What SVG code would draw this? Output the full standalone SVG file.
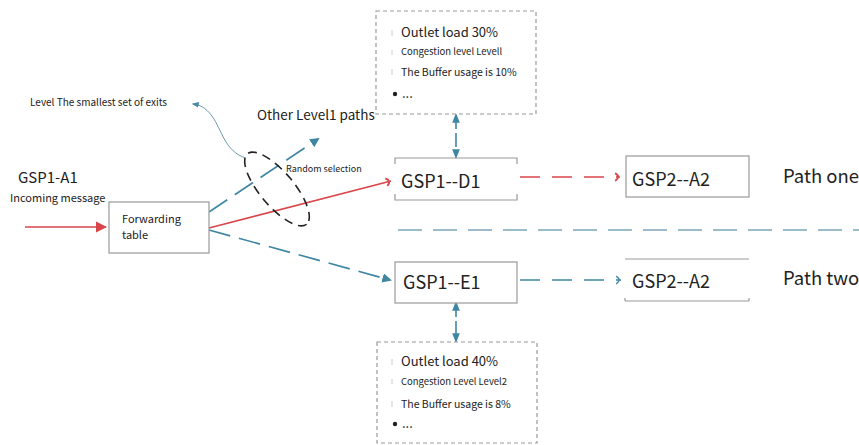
<svg xmlns="http://www.w3.org/2000/svg" width="859" height="445" viewBox="0 0 859 445">
<defs>
<style>
text{font-family:"Noto Sans CJK SC","Noto Sans",sans-serif;fill:#222}
.box{fill:#fff;stroke:#999;stroke-width:1.2}
.info{fill:#fff;stroke:#999;stroke-width:1.2;stroke-dasharray:4 3}
.blue{stroke:#3f86a3;stroke-width:1.6;fill:none}
.red{stroke:#d9464a;stroke-width:1.6;fill:none}
.tick{stroke:#ccc;stroke-width:1}
</style>
<marker id="ab" viewBox="0 0 10 10" refX="8" refY="5" markerWidth="6" markerHeight="6" orient="auto-start-reverse"><path d="M0,0 L10,5 L0,10 z" fill="#3f86a3"/></marker>
<marker id="ad" viewBox="0 0 10 10" refX="8" refY="5" markerWidth="6" markerHeight="6" orient="auto-start-reverse"><path d="M0,1 L10,5 L0,9 z" fill="#3f86a3"/></marker>
<marker id="ar" viewBox="0 0 10 10" refX="9" refY="5" markerWidth="7" markerHeight="7" orient="auto"><path d="M0,0 L10,5 L0,10 z" fill="#d9464a"/></marker>
<marker id="arh" viewBox="0 0 10 10" refX="8" refY="5" markerWidth="6" markerHeight="6" orient="auto"><path d="M3,1 Q9,5 3,9" stroke="#d9464a" stroke-width="2" fill="none"/></marker>
<marker id="abh" viewBox="0 0 10 10" refX="8" refY="5" markerWidth="6" markerHeight="6" orient="auto"><path d="M3,1 Q9,5 3,9" stroke="#3f86a3" stroke-width="1.5" fill="none"/></marker>
<marker id="ag" viewBox="0 0 10 10" refX="8" refY="5" markerWidth="8" markerHeight="8" orient="auto"><path d="M0,1 L10,5 L0,9 z" fill="#4a8aa5"/></marker>
</defs>

<g id="connectors">
<line class="red" x1="25" y1="227" x2="106" y2="227" marker-end="url(#ar)"/>
<line class="blue" x1="209" y1="212" x2="318" y2="139" stroke-dasharray="22 9" marker-end="url(#ab)"/>
<line class="red" x1="209" y1="228" x2="391" y2="181" stroke-width="1.3" marker-end="url(#arh)"/>
<line class="blue" x1="209" y1="230" x2="390" y2="280" stroke-dasharray="22 9" marker-end="url(#ab)"/>
<line class="blue" x1="456" y1="115" x2="456" y2="157" stroke-width="1" stroke-dasharray="14 4" marker-start="url(#ad)" marker-end="url(#ad)"/>
<line class="blue" x1="456" y1="303" x2="456" y2="341" stroke-width="1" stroke-dasharray="14 4" marker-start="url(#ad)" marker-end="url(#ad)"/>
<line class="red" x1="520" y1="177" x2="620" y2="177" stroke-dasharray="20 12" marker-end="url(#arh)"/>
<line class="blue" x1="520" y1="280" x2="621" y2="280" stroke="#7f9fae" stroke-dasharray="20 12" marker-end="url(#abh)"/>
<line x1="398" y1="230" x2="859" y2="230" stroke="#7ea6b8" stroke-width="1.6" stroke-dasharray="24 11"/>
<path d="M246,158 C225,152 222,130 212,116 C205,107 200,105 193,104" stroke="#5a8fa6" stroke-width="0.9" fill="none" marker-end="url(#ag)"/>
<ellipse cx="277" cy="189" rx="46" ry="17" transform="rotate(50 277 189)" fill="none" stroke="#222" stroke-width="1.6" stroke-dasharray="9 6"/>
</g>

<g id="labels">
<text x="30" y="106" font-size="10">Level The smallest set of exits</text>
<text x="18" y="183" font-size="15">GSP1-A1</text>
<text x="10" y="202" font-size="11">Incoming message</text>
<text x="257" y="120" font-size="13.5">Other Level1 paths</text>
<text x="286" y="172" font-size="9">Random selection</text>
<text x="783" y="183" font-size="18.5">Path one</text>
<text x="783" y="285" font-size="18.5">Path two</text>
</g>

<g id="forwarding-table">
<rect class="box" x="109" y="202" width="100" height="51"/>
<text x="122" y="223" font-size="11">Forwarding</text>
<text x="122" y="239" font-size="11">table</text>
</g>

<g id="gsp1-d1">
<path d="M395,164 V158 H517 V164 M395,194 V200 H517 V194" fill="none" stroke="#999" stroke-width="1.2"/>
<text x="401" y="188" font-size="18">GSP1--D1</text>
</g>

<g id="gsp2-a2-top">
<rect class="box" x="626" y="156" width="123" height="41"/>
<text x="632" y="186" font-size="18">GSP2--A2</text>
</g>

<g id="gsp1-e1">
<rect class="box" x="395" y="262" width="122" height="41"/>
<text x="403" y="289" font-size="18">GSP1--E1</text>
</g>

<g id="gsp2-a2-bottom">
<path d="M625,259 H749 M625,301 H749 M625,298 V301 M749,298 V301" fill="none" stroke="#999" stroke-width="1.2"/>
<text x="632" y="288" font-size="18">GSP2--A2</text>
</g>

<g id="info-top">
<rect class="info" x="376" y="11" width="160" height="103"/>
<line class="tick" x1="392" y1="30" x2="392" y2="36"/>
<line class="tick" x1="392" y1="50" x2="392" y2="55"/>
<line class="tick" x1="392" y1="69" x2="392" y2="75"/>
<text x="401" y="37" font-size="13">Outlet load 30%</text>
<text x="401" y="55" font-size="9.5">Congestion level Levell</text>
<text x="401" y="76" font-size="10.5">The Buffer usage is 10%</text>
<circle cx="395" cy="94" r="2.2" fill="#222"/>
<text x="402" y="98" font-size="13">...</text>
</g>

<g id="info-bottom">
<rect class="info" x="377" y="342" width="160" height="101"/>
<line class="tick" x1="392" y1="359" x2="392" y2="365"/>
<line class="tick" x1="392" y1="379" x2="392" y2="384"/>
<line class="tick" x1="392" y1="401" x2="392" y2="407"/>
<text x="401" y="366" font-size="13">Outlet load 40%</text>
<text x="401" y="385" font-size="9.5">Congestion Level Level2</text>
<text x="401" y="408" font-size="10.5">The Buffer usage is 8%</text>
<circle cx="395" cy="424" r="2.2" fill="#222"/>
<text x="402" y="428" font-size="13">...</text>
</g>
</svg>
